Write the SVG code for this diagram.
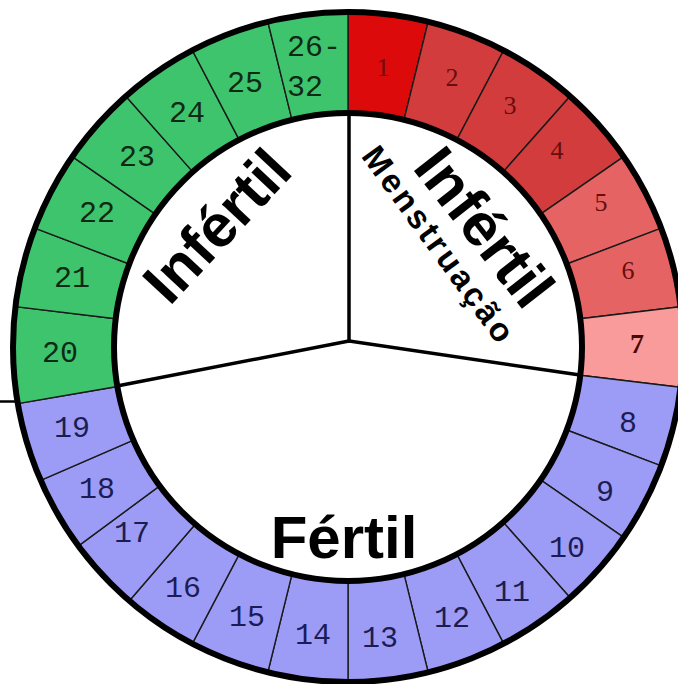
<svg xmlns="http://www.w3.org/2000/svg" width="678" height="684" viewBox="0 0 678 684">
<style>
.seg{stroke:#1a1a1a;stroke-width:1.4;stroke-linejoin:round}
.red1{fill:#dc0a0a}.red2{fill:#d33c3c}.red3{fill:#e56363}.red4{fill:#f99b9b}
.blue{fill:#9c9cf6}.green{fill:#3ec46d}
.rnum{font-family:"Liberation Serif","Times New Roman",serif;font-size:26px;text-anchor:middle;fill:#6a0d0d}
.num{font-family:"Liberation Mono","Courier New",monospace;font-size:30px;text-anchor:middle}
.bn{fill:#1c1c55}.gn{fill:#0f2a14}
.big{font-family:"Liberation Sans",Arial,sans-serif;font-weight:bold;font-size:60px;text-anchor:middle;fill:#000}
.men{font-family:"Liberation Sans",Arial,sans-serif;font-weight:bold;font-size:33px;letter-spacing:3px;text-anchor:middle;fill:#000}
.border{fill:none;stroke:#000;stroke-width:6}
.div{stroke:#000;stroke-width:3.5;fill:none;stroke-linecap:round}
</style>
<rect width="678" height="684" fill="#fff"/>
<g id="segments">
<g id="day1"><path class="seg red1" d="M348,113 L348,12 A335,335 0 0 1 428.17,21.74 L404,119.8 A234,234 0 0 0 348,113Z"/><text class="rnum" x="383" y="76">1</text></g>
<g id="day2"><path class="seg red2" d="M404,119.8 L428.17,21.74 A335,335 0 0 1 503.68,50.37 L456.74,139.8 A234,234 0 0 0 404,119.8Z"/><text class="rnum" x="452" y="86">2</text></g>
<g id="day3"><path class="seg red2" d="M456.74,139.8 L503.68,50.37 A335,335 0 0 1 570.15,96.25 L503.17,171.85 A234,234 0 0 0 456.74,139.8Z"/><text class="rnum" x="510" y="114">3</text></g>
<g id="day4"><path class="seg red2" d="M503.17,171.85 L570.15,96.25 A335,335 0 0 1 623.7,156.7 L540.58,214.07 A234,234 0 0 0 503.17,171.85Z"/><text class="rnum" x="557" y="159">4</text></g>
<g id="day5"><path class="seg red3" d="M540.58,214.07 L623.7,156.7 A335,335 0 0 1 661.23,228.21 L566.79,264.02 A234,234 0 0 0 540.58,214.07Z"/><text class="rnum" x="601" y="211">5</text></g>
<g id="day6"><path class="seg red3" d="M566.79,264.02 L661.23,228.21 A335,335 0 0 1 680.56,306.62 L580.29,318.79 A234,234 0 0 0 566.79,264.02Z"/><text class="rnum" x="628" y="279">6</text></g>
<g id="day7"><path class="seg red4" d="M580.29,318.79 L680.56,306.62 A335,335 0 0 1 680.56,387.38 L580.29,375.21 A234,234 0 0 0 580.29,318.79Z"/><text class="rnum" x="637" y="353" style="font-size:28px;font-weight:bold;fill:#4a0808">7</text></g>
<g id="day8"><path class="seg blue" d="M580.29,375.21 L680.56,387.38 A335,335 0 0 1 661.23,465.79 L566.79,429.98 A234,234 0 0 0 580.29,375.21Z"/><text class="num bn" x="628" y="432">8</text></g>
<g id="day9"><path class="seg blue" d="M566.79,429.98 L661.23,465.79 A335,335 0 0 1 623.7,537.3 L540.58,479.93 A234,234 0 0 0 566.79,429.98Z"/><text class="num bn" x="605" y="501">9</text></g>
<g id="day10"><path class="seg blue" d="M540.58,479.93 L623.7,537.3 A335,335 0 0 1 570.15,597.75 L503.17,522.15 A234,234 0 0 0 540.58,479.93Z"/><text class="num bn" x="567" y="557">10</text></g>
<g id="day11"><path class="seg blue" d="M503.17,522.15 L570.15,597.75 A335,335 0 0 1 503.68,643.63 L456.74,554.2 A234,234 0 0 0 503.17,522.15Z"/><text class="num bn" x="512" y="601">11</text></g>
<g id="day12"><path class="seg blue" d="M456.74,554.2 L503.68,643.63 A335,335 0 0 1 428.17,672.26 L404,574.2 A234,234 0 0 0 456.74,554.2Z"/><text class="num bn" x="452" y="627">12</text></g>
<g id="day13"><path class="seg blue" d="M404,574.2 L428.17,672.26 A335,335 0 0 1 348,682 L348,581 A234,234 0 0 0 404,574.2Z"/><text class="num bn" x="380" y="647">13</text></g>
<g id="day14"><path class="seg blue" d="M348,581 L348,682 A335,335 0 0 1 267.83,672.26 L292,574.2 A234,234 0 0 0 348,581Z"/><text class="num bn" x="313" y="644">14</text></g>
<g id="day15"><path class="seg blue" d="M292,574.2 L267.83,672.26 A335,335 0 0 1 192.32,643.63 L239.26,554.2 A234,234 0 0 0 292,574.2Z"/><text class="num bn" x="247" y="626">15</text></g>
<g id="day16"><path class="seg blue" d="M239.26,554.2 L192.32,643.63 A335,335 0 0 1 129.4,600.8 L195.3,524.3 A234,234 0 0 0 239.26,554.2Z"/><text class="num bn" x="183" y="597">16</text></g>
<g id="day17"><path class="seg blue" d="M195.3,524.3 L129.4,600.8 A335,335 0 0 1 78.5,545.9 L159.7,485.9 A234,234 0 0 0 195.3,524.3Z"/><text class="num bn" x="132" y="542">17</text></g>
<g id="day18"><path class="seg blue" d="M159.7,485.9 L78.5,545.9 A335,335 0 0 1 40.7,480.4 L133.4,440.2 A234,234 0 0 0 159.7,485.9Z"/><text class="num bn" x="97" y="498">18</text></g>
<g id="day19"><path class="seg blue" d="M133.4,440.2 L40.7,480.4 A335,335 0 0 1 17.8,403.6 L117.4,386.5 A234,234 0 0 0 133.4,440.2Z"/><text class="num bn" x="72" y="437">19</text></g>
<g id="day20"><path class="seg green" d="M117.4,386.5 L17.8,403.6 A335,335 0 0 1 15.44,306.62 L115.71,318.79 A234,234 0 0 0 117.4,386.5Z"/><text class="num gn" x="60" y="362">20</text></g>
<g id="day21"><path class="seg green" d="M115.71,318.79 L15.44,306.62 A335,335 0 0 1 34.77,228.21 L129.21,264.02 A234,234 0 0 0 115.71,318.79Z"/><text class="num gn" x="72" y="287">21</text></g>
<g id="day22"><path class="seg green" d="M129.21,264.02 L34.77,228.21 A335,335 0 0 1 72.3,156.7 L155.42,214.07 A234,234 0 0 0 129.21,264.02Z"/><text class="num gn" x="97" y="222">22</text></g>
<g id="day23"><path class="seg green" d="M155.42,214.07 L72.3,156.7 A335,335 0 0 1 125.85,96.25 L192.83,171.85 A234,234 0 0 0 155.42,214.07Z"/><text class="num gn" x="137" y="166">23</text></g>
<g id="day24"><path class="seg green" d="M192.83,171.85 L125.85,96.25 A335,335 0 0 1 192.32,50.37 L239.26,139.8 A234,234 0 0 0 192.83,171.85Z"/><text class="num gn" x="187" y="122">24</text></g>
<g id="day25"><path class="seg green" d="M239.26,139.8 L192.32,50.37 A335,335 0 0 1 267.83,21.74 L292,119.8 A234,234 0 0 0 239.26,139.8Z"/><text class="num gn" x="245" y="92">25</text></g>
<g id="day26-32"><path class="seg green" d="M292,119.8 L267.83,21.74 A335,335 0 0 1 348,12 L348,113 A234,234 0 0 0 292,119.8Z"/><text class="num gn" x="287" y="56" style="text-anchor:start">26-</text><text class="num gn" x="287" y="96" style="text-anchor:start">32</text></g>
</g>
<g id="ring-borders">
<circle class="border" cx="348" cy="347" r="335"/>
<circle class="border" cx="348" cy="347" r="234"/>
</g>
<g id="connectors">
<path class="div" d="M349,114 L349,341 L580,375"/>
<path class="div" d="M349,341 L117,386"/>
<line x1="0" y1="401.5" x2="15" y2="401.5" stroke="#000" stroke-width="2.5"/>
</g>
<g id="label-infertil-left"><text class="big" transform="translate(232,240) rotate(-47)">Infértil</text></g>
<g id="label-infertil-right"><text class="big" transform="translate(468,240) rotate(52)">Infértil</text></g>
<g id="label-menstruacao"><text class="men" transform="translate(430,252) rotate(54)">Menstruação</text></g>
<g id="label-fertil"><text class="big" x="344" y="558">Fértil</text></g>
</svg>
